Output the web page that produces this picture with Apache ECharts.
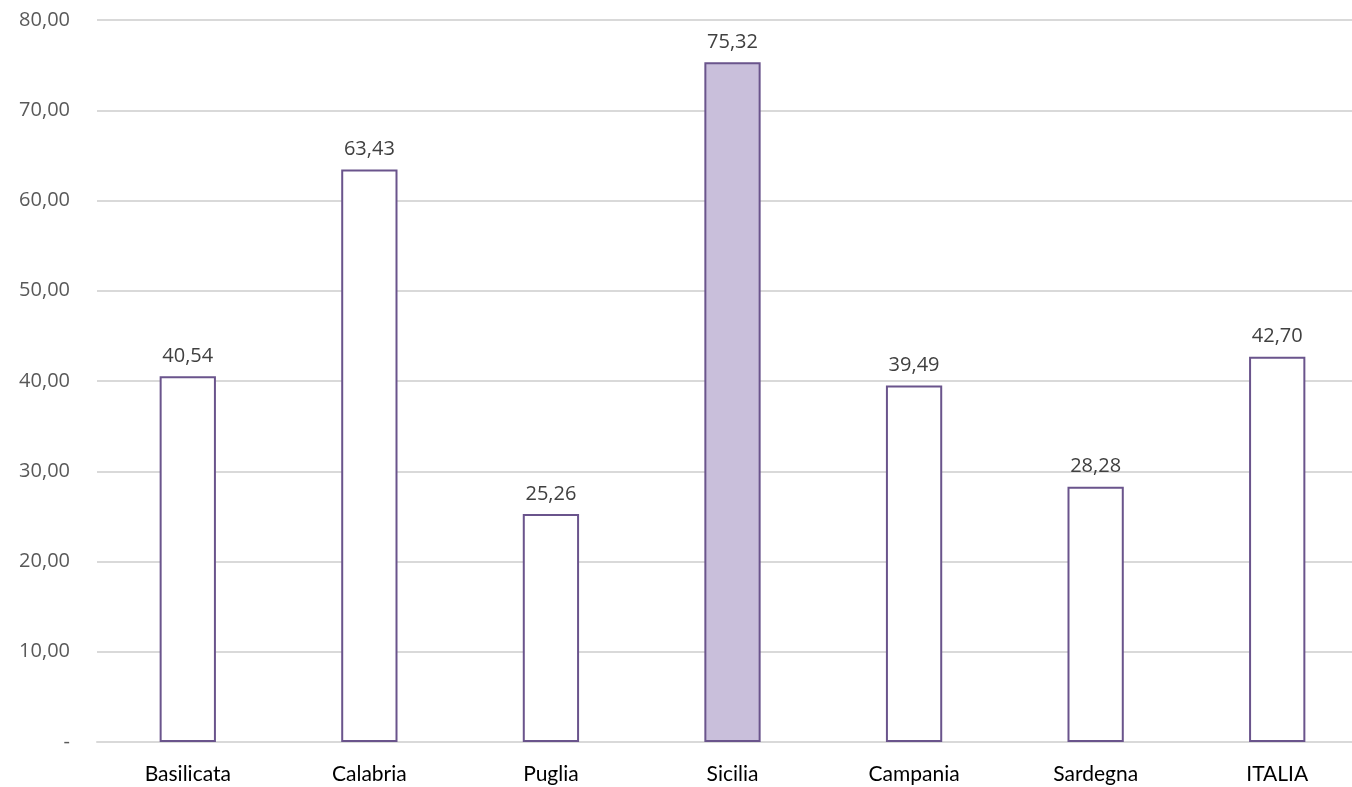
<!DOCTYPE html>
<html><head><meta charset="utf-8">
<script src="https://cdn.jsdelivr.net/npm/echarts@6/dist/echarts.min.js"></script>
<style>html,body{margin:0;padding:0;background:#fff}#c{width:1352px;height:787px}</style>
</head><body><div id="c"></div>
<script>
var categories = ['Basilicata','Calabria','Puglia','Sicilia','Campania','Sardegna','ITALIA'];
var values = [40.54, 63.43, 25.26, 75.32, 39.49, 28.28, 42.70];
var highlight = 'Sicilia';

function fmt(v){ return v === 0 ? '-' : v.toFixed(2).replace('.', ','); }

var chart = echarts.init(document.getElementById('c'), null, {renderer:'canvas'});
chart.setOption({
  animation:false,
  grid:{left:97, top:20, width:1271, height:722, containLabel:false, outerBoundsMode:'none'},
  xAxis:{
    type:'category', data:categories,
    axisLine:{show:true, lineStyle:{color:'#d9d9d9', width:2}},
    axisTick:{show:false},
    axisLabel:{color:'#000000', fontSize:21, fontFamily:'Lato, "Open Sans", sans-serif', margin:22}
  },
  yAxis:{
    type:'value', min:0, max:80, interval:10,
    axisLine:{show:false}, axisTick:{show:false},
    splitLine:{lineStyle:{color:'#d9d9d9', width:2}},
    axisLabel:{color:'#595959', fontSize:20, fontFamily:'"Open Sans", sans-serif', margin:27, formatter:fmt}
  },
  series:[{
    type:'bar',
    barWidth:'31%',
    data: categories.map(function(c,i){
      return {value:values[i], itemStyle:{color: c===highlight ? '#c9bfdb' : '#ffffff'}};
    }),
    itemStyle:{borderColor:'#6a548c', borderWidth:2},
    label:{show:true, position:'top', distance:10, color:'#404040', fontSize:20,
      fontFamily:'"Open Sans", sans-serif', formatter:function(p){return fmt(p.value);}}
  }]
});
</script></body></html>
